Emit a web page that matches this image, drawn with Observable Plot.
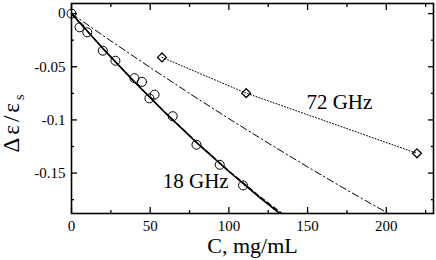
<!DOCTYPE html>
<html><head><meta charset="utf-8">
<script src="https://cdn.jsdelivr.net/npm/d3@7"></script>
<script src="https://cdn.jsdelivr.net/npm/@observablehq/plot@0.6"></script>
<style>body{margin:0;background:#fff} svg{display:block}</style>
</head><body><div id="chart"></div>
<script>
// 18 GHz measured points
const c18 = [0, 5.1, 10, 19.9, 27.9, 40, 44.8, 49.5, 52.8, 64.3, 79.4, 94.2, 109];
const v18 = [0, -0.0129, -0.0176, -0.0349, -0.0443, -0.0607, -0.0642, -0.0797, -0.0762, -0.0965, -0.1233, -0.1422, -0.1616];
// 72 GHz measured points
const c72 = [57.5, 111, 219.5];
const v72 = [-0.0412, -0.0748, -0.1314];
// fit curves
const fitC = [0, 20, 40, 60, 80, 100, 120, 135];
const fitSolid = [0, -0.0329, -0.0642, -0.0939, -0.1220, -0.1485, -0.1735, -0.1911];
const fitDashed = [0, -0.0329, -0.0641, -0.0937, -0.1216, -0.1479, -0.1725, -0.1893];
const ddC = [0, 25, 50, 75, 100, 125, 150, 175, 200, 210];
const ddV = [0, -0.0257, -0.0507, -0.0751, -0.0988, -0.1218, -0.1442, -0.1659, -0.1869, -0.1952];
// ticks
const xMajor = [0, 50, 100, 150, 200];
const xTickLabels = ["0", "50", "100", "150", "200"];
const xMinor = [25, 75, 125, 175, 225];
const yMajor = [0, -0.05, -0.1, -0.15];
const yTickLabels = ["0", "-0.05", "-0.1", "-0.15"];
const yMinor = [-0.025, -0.075, -0.125, -0.175];
// annotations
const annText = ["18 GHz", "72 GHz"];
const annC = [78.9, 170.2];
const annV = [-0.1642, -0.0899];
const xTitle = "C, mg/mL";

const font = "'Liberation Serif', 'Times New Roman', serif";
const pts18 = c18.map((c, i) => ({c, v: v18[i]}));
const pts72 = c72.map((c, i) => ({c, v: v72[i]}));
const solid = fitC.map((c, i) => ({c, v: fitSolid[i]}));
const dashed = fitC.map((c, i) => ({c, v: fitDashed[i]}));
const dd = ddC.map((c, i) => ({c, v: ddV[i]}));
const ann = annText.map((t, i) => ({t, c: annC[i], v: annV[i]}));
const blank = () => "";

const chart = Plot.plot({
  width: 436, height: 260,
  marginLeft: 71, marginRight: 3, marginTop: 3, marginBottom: 47,
  style: {fontFamily: font, fontSize: "15px", color: "black", background: "white"},
  x: {domain: [0, 230]},
  y: {domain: [-0.188, 0.0095]},
  marks: [
    Plot.line(dd, {x: "c", y: "v", stroke: "black", strokeWidth: 1, strokeDasharray: "7,3,1.5,3", clip: true}),
    Plot.line(dashed, {x: "c", y: "v", stroke: "black", strokeWidth: 1.2, strokeDasharray: "5,3", clip: true}),
    Plot.line(solid, {x: "c", y: "v", stroke: "black", strokeWidth: 1.6, clip: true}),
    Plot.line(pts72, {x: "c", y: "v", stroke: "black", strokeWidth: 1, strokeDasharray: "1,2"}),
    Plot.dot(pts18, {x: "c", y: "v", r: 4.5, stroke: "black", strokeWidth: 1, fill: "none"}),
    Plot.dot(pts72, {x: "c", y: "v", r: 4, symbol: "diamond2", stroke: "black", strokeWidth: 1.3, fill: "none"}),
    Plot.text(ann, {x: "c", y: "v", text: "t", fontSize: 21, lineAnchor: "bottom", textAnchor: "middle"}),
    Plot.axisX(xMajor, {anchor: "bottom", tickSize: -6, tickPadding: 12.5, tickFormat: d => xTickLabels[xMajor.indexOf(d)], label: null, strokeWidth: 1.3}),
    Plot.axisX(xMinor, {anchor: "bottom", tickSize: -3, tickPadding: 0, tickFormat: blank, label: null, strokeWidth: 1.3}),
    Plot.axisX(xMajor, {anchor: "top", tickSize: -6, tickPadding: 0, tickFormat: blank, label: null, strokeWidth: 1.3}),
    Plot.axisX(xMinor, {anchor: "top", tickSize: -3, tickPadding: 0, tickFormat: blank, label: null, strokeWidth: 1.3}),
    Plot.axisY(yMajor, {anchor: "left", tickSize: -6, tickPadding: 12, tickFormat: d => yTickLabels[yMajor.indexOf(d)], label: null, strokeWidth: 1.3}),
    Plot.axisY(yMinor, {anchor: "left", tickSize: -3, tickPadding: 0, tickFormat: blank, label: null, strokeWidth: 1.3}),
    Plot.axisY(yMajor, {anchor: "right", tickSize: -6, tickPadding: 0, tickFormat: blank, label: null, strokeWidth: 1.3}),
    Plot.axisY(yMinor, {anchor: "right", tickSize: -3, tickPadding: 0, tickFormat: blank, label: null, strokeWidth: 1.3}),
    Plot.frame({stroke: "black", strokeWidth: 1.6}),
    Plot.text([xTitle], {frameAnchor: "bottom", dy: 39, text: d => d, fontSize: 22, lineAnchor: "bottom"})
  ]
});

// y-axis title with subscript
const svg = d3.select(chart);
const yt = svg.append("text")
  .attr("transform", "translate(19,122) rotate(-90)")
  .attr("text-anchor", "middle")
  .attr("font-family", font)
  .attr("font-size", 23)
  .attr("letter-spacing", 3)
  .attr("fill", "black");
yt.append("tspan").text("Δε/ε");
yt.append("tspan").attr("dy", 5).attr("font-size", 14).text("s");

document.getElementById("chart").appendChild(chart);
</script>
</body></html>
